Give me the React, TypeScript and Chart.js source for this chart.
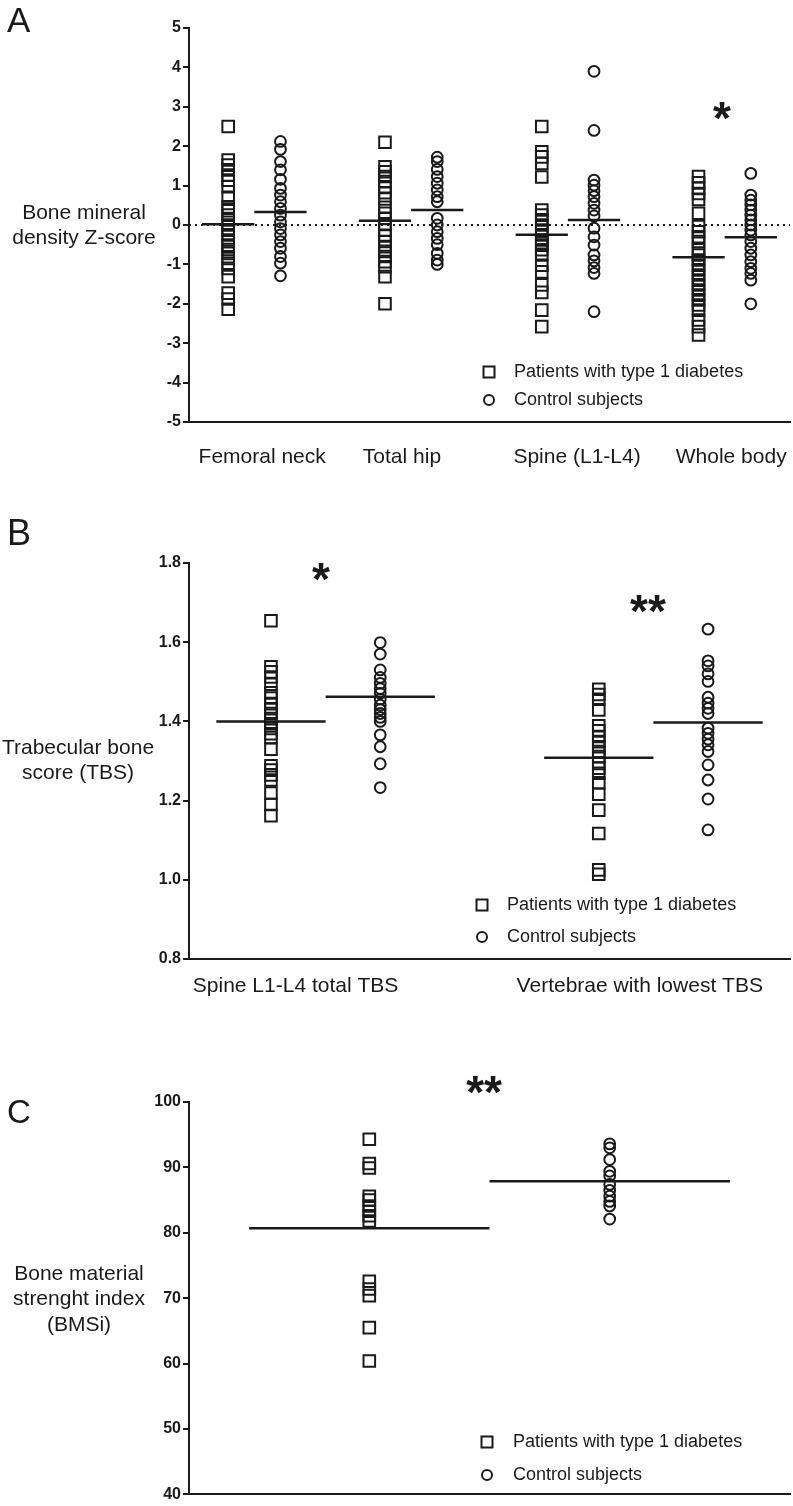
import React, { useEffect, useRef } from "react";
import { Chart, registerables } from "chart.js";
Chart.register(...registerables);

const FONT = "'Liberation Sans', Arial, Helvetica, sans-serif";
const INK = "#1a1a1a";
const LEGEND_LABELS = ["Patients with type 1 diabetes", "Control subjects"];

// ---------- Panel A: BMD Z-score ----------
const A_CATEGORIES = ["Femoral neck", "Total hip", "Spine (L1-L4)", "Whole body"];
const A_FEMORAL_PATIENTS = [2.5, 1.65, 1.52, 1.4, 1.27, 1.14, 0.97, 0.7, 0.46, 0.36, 0.25, 0.13, 0.0, -0.13, -0.25, -0.38, -0.51, -0.62, -0.72, -0.85, -0.97, -1.1, -1.31, -1.73, -1.88, -2.14];
const A_FEMORAL_CONTROLS = [2.12, 1.92, 1.61, 1.4, 1.16, 0.93, 0.76, 0.59, 0.42, 0.25, 0.08, -0.09, -0.25, -0.42, -0.59, -0.8, -0.97, -1.29];
const A_HIP_PATIENTS = [2.1, 1.48, 1.35, 1.23, 1.1, 0.97, 0.82, 0.66, 0.45, 0.3, 0.17, 0.03, -0.13, -0.28, -0.42, -0.55, -0.67, -0.8, -0.93, -1.06, -1.31, -2.0];
const A_HIP_CONTROLS = [1.72, 1.61, 1.41, 1.23, 1.06, 0.89, 0.72, 0.59, 0.17, 0.0, -0.17, -0.34, -0.5, -0.72, -0.89, -1.0];
const A_SPINE_PATIENTS = [2.5, 1.86, 1.73, 1.56, 1.22, 0.38, 0.25, 0.13, 0.0, -0.13, -0.25, -0.38, -0.45, -0.51, -0.63, -0.76, -1.02, -1.19, -1.52, -1.71, -2.16, -2.58];
const A_SPINE_CONTROLS = [3.9, 2.4, 1.14, 1.01, 0.87, 0.72, 0.55, 0.38, 0.23, -0.08, -0.3, -0.51, -0.76, -0.91, -1.08, -1.23, -2.2];
const A_WHOLE_PATIENTS = [1.23, 1.07, 0.93, 0.8, 0.65, 0.3, -0.04, -0.17, -0.3, -0.42, -0.63, -0.76, -0.89, -1.02, -1.14, -1.27, -1.4, -1.52, -1.65, -1.78, -1.9, -2.03, -2.16, -2.41, -2.58, -2.79];
const A_WHOLE_CONTROLS = [1.31, 0.76, 0.63, 0.51, 0.38, 0.25, 0.13, 0.0, -0.13, -0.25, -0.42, -0.59, -0.76, -0.93, -1.1, -1.23, -1.4, -2.0];
const A_PATIENT_MEANS = [0.02, 0.11, -0.25, -0.82];
const A_CONTROL_MEANS = [0.33, 0.38, 0.13, -0.31];

// ---------- Panel B: TBS ----------
const B_CATEGORIES = ["Spine L1-L4 total TBS", "Vertebrae with lowest TBS"];
const B_TOTAL_PATIENTS = [1.654, 1.538, 1.525, 1.512, 1.494, 1.472, 1.459, 1.445, 1.432, 1.42, 1.407, 1.394, 1.382, 1.369, 1.359, 1.33, 1.288, 1.277, 1.265, 1.252, 1.219, 1.19, 1.162];
const B_TOTAL_CONTROLS = [1.599, 1.57, 1.53, 1.511, 1.496, 1.483, 1.471, 1.456, 1.441, 1.43, 1.42, 1.41, 1.4, 1.366, 1.336, 1.293, 1.233];
const B_LOWEST_PATIENTS = [1.481, 1.468, 1.456, 1.429, 1.389, 1.376, 1.362, 1.349, 1.336, 1.324, 1.311, 1.294, 1.282, 1.269, 1.245, 1.216, 1.176, 1.117, 1.025, 1.014];
const B_LOWEST_CONTROLS = [1.633, 1.553, 1.54, 1.52, 1.501, 1.461, 1.446, 1.433, 1.42, 1.383, 1.37, 1.355, 1.341, 1.324, 1.29, 1.252, 1.204, 1.126];
const B_PATIENT_MEANS = [1.4, 1.308];
const B_CONTROL_MEANS = [1.462, 1.397];

// ---------- Panel C: BMSi ----------
const C_PATIENTS = [94.3, 90.6, 89.9, 85.6, 85.0, 84.1, 83.3, 82.6, 81.8, 72.6, 71.4, 70.4, 65.5, 60.4];
const C_CONTROLS = [93.6, 93.0, 91.2, 89.4, 88.7, 87.4, 86.5, 85.6, 84.8, 84.1, 82.1];
const C_PATIENT_MEANS = [80.7];
const C_CONTROL_MEANS = [87.9];

interface Group { px: number; cx: number; patients: number[]; controls: number[]; pMean: number; cMean: number; }
interface Star { text: string; x: number; y: number; }
interface PanelCfg {
  top: number; height: number; areaTop: number; areaBottom: number;
  xMax: number; yMin: number; yMax: number; yStep: number; decimals: number;
  groups: Group[]; half: number;
  letter: string; letterSize: number; letterBase: number;
  yTitle: string[]; yTitleX: number; yTitleY: number; yTitleGap: number;
  xLabels: string[]; xLabelPos: number[]; xLabelY: number;
  stars: Star[];
  legend: { x: number; y1: number; y2: number; tx: number };
  zeroLine: boolean;
}

const PANEL_A: PanelCfg = {
  top: 0, height: 490, areaTop: 28, areaBottom: 422,
  xMax: 23, yMin: -5, yMax: 5, yStep: 1, decimals: 0,
  groups: [
    { px: 1.5, cx: 3.5, patients: A_FEMORAL_PATIENTS, controls: A_FEMORAL_CONTROLS, pMean: A_PATIENT_MEANS[0], cMean: A_CONTROL_MEANS[0] },
    { px: 7.5, cx: 9.5, patients: A_HIP_PATIENTS, controls: A_HIP_CONTROLS, pMean: A_PATIENT_MEANS[1], cMean: A_CONTROL_MEANS[1] },
    { px: 13.5, cx: 15.5, patients: A_SPINE_PATIENTS, controls: A_SPINE_CONTROLS, pMean: A_PATIENT_MEANS[2], cMean: A_CONTROL_MEANS[2] },
    { px: 19.5, cx: 21.5, patients: A_WHOLE_PATIENTS, controls: A_WHOLE_CONTROLS, pMean: A_PATIENT_MEANS[3], cMean: A_CONTROL_MEANS[3] },
  ],
  half: 1,
  letter: "A", letterSize: 35, letterBase: 32,
  yTitle: ["Bone mineral", "density Z-score"], yTitleX: 84, yTitleY: 213, yTitleGap: 25,
  xLabels: A_CATEGORIES, xLabelPos: [2.8, 8.15, 14.85, 20.75], xLabelY: 457,
  stars: [{ text: "*", x: 20.4, y: 2.89 }],
  legend: { x: 489, y1: 372, y2: 400, tx: 514 },
  zeroLine: true,
};

const PANEL_B: PanelCfg = {
  top: 500, height: 500, areaTop: 63, areaBottom: 459,
  xMax: 22, yMin: 0.8, yMax: 1.8, yStep: 0.2, decimals: 1,
  groups: [
    { px: 3, cx: 7, patients: B_TOTAL_PATIENTS, controls: B_TOTAL_CONTROLS, pMean: B_PATIENT_MEANS[0], cMean: B_CONTROL_MEANS[0] },
    { px: 15, cx: 19, patients: B_LOWEST_PATIENTS, controls: B_LOWEST_CONTROLS, pMean: B_PATIENT_MEANS[1], cMean: B_CONTROL_MEANS[1] },
  ],
  half: 2,
  letter: "B", letterSize: 36, letterBase: 45,
  yTitle: ["Trabecular bone", "score (TBS)"], yTitleX: 78, yTitleY: 248, yTitleGap: 25,
  xLabels: B_CATEGORIES, xLabelPos: [3.9, 16.5], xLabelY: 486,
  stars: [{ text: "*", x: 4.83, y: 1.777 }, { text: "**", x: 16.8, y: 1.696 }],
  legend: { x: 482, y1: 405, y2: 437, tx: 507 },
  zeroLine: false,
};

const PANEL_C: PanelCfg = {
  top: 1000, height: 506, areaTop: 102, areaBottom: 497,
  xMax: 20, yMin: 40, yMax: 100, yStep: 10, decimals: 0,
  groups: [
    { px: 6, cx: 14, patients: C_PATIENTS, controls: C_CONTROLS, pMean: C_PATIENT_MEANS[0], cMean: C_CONTROL_MEANS[0] },
  ],
  half: 4,
  letter: "C", letterSize: 33, letterBase: 123,
  yTitle: ["Bone material", "strenght index", "(BMSi)"], yTitleX: 79, yTitleY: 274, yTitleGap: 25.5,
  xLabels: [], xLabelPos: [], xLabelY: 0,
  stars: [{ text: "**", x: 9.82, y: 102.6 }],
  legend: { x: 487, y1: 442, y2: 475, tx: 513 },
  zeroLine: false,
};

function meanSegments(groups: Group[], which: "p" | "c", half: number) {
  const out: { x: number; y: number | null }[] = [];
  for (const g of groups) {
    const c = which === "p" ? g.px : g.cx;
    const m = which === "p" ? g.pMean : g.cMean;
    out.push({ x: c - half, y: m }, { x: c + half, y: m }, { x: c + half, y: null });
  }
  return out;
}

function buildConfig(cfg: PanelCfg): any {
  const patients = cfg.groups.flatMap((g) => g.patients.map((v) => ({ x: g.px, y: v })));
  const controls = cfg.groups.flatMap((g) => g.controls.map((v) => ({ x: g.cx, y: v })));
  const datasets: any[] = [];
  if (cfg.zeroLine) {
    datasets.push({
      type: "line", label: "zero", data: [{ x: 0, y: 0 }, { x: cfg.xMax, y: 0 }],
      borderColor: INK, borderWidth: 2, borderDash: [2, 4], pointRadius: 0, order: 5,
    });
  }
  datasets.push({
    type: "scatter", label: LEGEND_LABELS[0], data: patients,
    pointStyle: "rect", pointRadius: 8.2, pointBorderWidth: 2,
    pointBorderColor: INK, pointBackgroundColor: "rgba(255,255,255,0)", order: 3,
  });
  datasets.push({
    type: "scatter", label: LEGEND_LABELS[1], data: controls,
    pointStyle: "circle", pointRadius: 5.4, pointBorderWidth: 2,
    pointBorderColor: INK, pointBackgroundColor: "rgba(255,255,255,0)", order: 3,
  });
  datasets.push({
    type: "line", label: "patients mean", data: meanSegments(cfg.groups, "p", cfg.half),
    borderColor: INK, borderWidth: 2.5, pointRadius: 0, spanGaps: false, order: 1,
  });
  datasets.push({
    type: "line", label: "controls mean", data: meanSegments(cfg.groups, "c", cfg.half),
    borderColor: INK, borderWidth: 2.5, pointRadius: 0, spanGaps: false, order: 1,
  });

  const annot = {
    id: "annot" + cfg.letter,
    afterDraw(chart: any) {
      const ctx = chart.ctx as CanvasRenderingContext2D;
      const xs = chart.scales.x;
      const ys = chart.scales.y;
      ctx.save();
      ctx.fillStyle = INK;
      ctx.strokeStyle = INK;
      // panel letter
      ctx.font = `${cfg.letterSize}px ${FONT}`;
      ctx.textAlign = "left";
      ctx.textBaseline = "alphabetic";
      ctx.fillText(cfg.letter, 7, cfg.letterBase);
      // y title
      ctx.font = `21px ${FONT}`;
      ctx.textAlign = "center";
      ctx.textBaseline = "middle";
      cfg.yTitle.forEach((t, i) => ctx.fillText(t, cfg.yTitleX, cfg.yTitleY + i * cfg.yTitleGap));
      // x labels
      cfg.xLabels.forEach((t, i) => ctx.fillText(t, xs.getPixelForValue(cfg.xLabelPos[i]), cfg.xLabelY));
      // significance stars
      ctx.font = `bold 46px ${FONT}`;
      ctx.textBaseline = "alphabetic";
      for (const s of cfg.stars) {
        const m = ctx.measureText(s.text);
        const px = xs.getPixelForValue(s.x);
        const py = ys.getPixelForValue(s.y);
        ctx.fillText(s.text, px, py + (m.actualBoundingBoxAscent - m.actualBoundingBoxDescent) / 2);
      }
      // legend
      const L = cfg.legend;
      ctx.lineWidth = 2;
      ctx.strokeRect(L.x - 5.5, L.y1 - 5.5, 11, 11);
      ctx.beginPath();
      ctx.arc(L.x, L.y2, 5, 0, Math.PI * 2);
      ctx.stroke();
      ctx.font = `18px ${FONT}`;
      ctx.textAlign = "left";
      ctx.textBaseline = "middle";
      ctx.fillText(LEGEND_LABELS[0], L.tx, L.y1);
      ctx.fillText(LEGEND_LABELS[1], L.tx, L.y2);
      ctx.restore();
    },
  };

  return {
    type: "scatter",
    data: { datasets },
    options: {
      responsive: false,
      animation: false,
      events: [],
      layout: { autoPadding: false, padding: { top: cfg.areaTop, right: 3, left: 0, bottom: 0 } },
      plugins: { legend: { display: false }, tooltip: { enabled: false }, title: { display: false } },
      scales: {
        x: {
          type: "linear", min: 0, max: cfg.xMax,
          ticks: { display: false },
          grid: { display: false },
          border: { display: true, color: INK, width: 2 },
          afterFit: (s: any) => { s.height = cfg.height - cfg.areaBottom; },
        },
        y: {
          type: "linear", min: cfg.yMin, max: cfg.yMax,
          ticks: {
            stepSize: cfg.yStep, color: INK, padding: 2,
            font: { family: FONT, size: 16, weight: "bold" },
            callback: (v: any) => Number(v).toFixed(cfg.decimals),
          },
          grid: { display: true, drawOnChartArea: false, drawTicks: true, tickLength: 6, color: INK, lineWidth: 2 },
          border: { display: true, color: INK, width: 2 },
          afterFit: (s: any) => { s.width = 189; },
        },
      },
    },
    plugins: [annot],
  };
}

function Panel({ cfg }: { cfg: PanelCfg }) {
  const ref = useRef<HTMLCanvasElement>(null);
  useEffect(() => {
    if (!ref.current) return;
    const chart = new Chart(ref.current, buildConfig(cfg));
    return () => chart.destroy();
  }, [cfg]);
  return (
    <canvas
      ref={ref}
      width={793}
      height={cfg.height}
      style={{ position: "absolute", left: 0, top: cfg.top, width: 793, height: cfg.height }}
    />
  );
}

export default function App() {
  return (
    <div style={{ position: "absolute", left: 0, top: 0, width: 793, height: 1506, background: "#fff", overflow: "hidden" }}>
      <Panel cfg={PANEL_A} />
      <Panel cfg={PANEL_B} />
      <Panel cfg={PANEL_C} />
    </div>
  );
}
